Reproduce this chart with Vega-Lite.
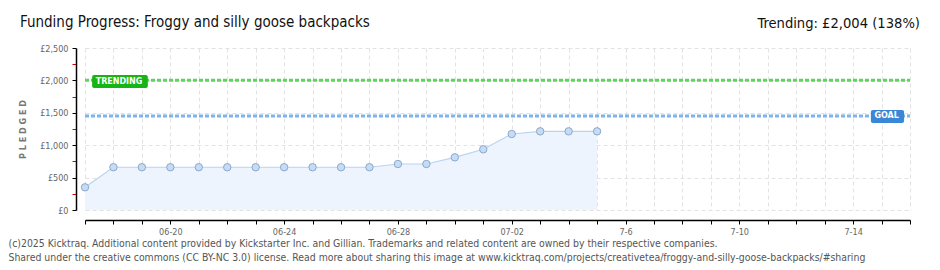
{
  "$schema": "https://vega.github.io/schema/vega-lite/v6.json",
  "autosize": {"type": "none"},
  "width": 825,
  "height": 162,
  "padding": {"left": 85, "top": 48, "right": 30, "bottom": 60},
  "background": "white",
  "config": {"view": {"stroke": null}, "font": "DejaVu Sans Condensed"},
  "title": {
    "text": "Funding Progress: Froggy and silly goose backpacks",
    "anchor": "start",
    "frame": "group",
    "font": "DejaVu Sans Condensed",
    "fontSize": 15,
    "fontWeight": "normal",
    "color": "#111",
    "dx": -65,
    "offset": 0,
    "dy": 14
  },
  "data": {
    "values": [
      {"date": "2025-06-17", "pledged": 350},
      {"date": "2025-06-18", "pledged": 660},
      {"date": "2025-06-19", "pledged": 660},
      {"date": "2025-06-20", "pledged": 660},
      {"date": "2025-06-21", "pledged": 660},
      {"date": "2025-06-22", "pledged": 660},
      {"date": "2025-06-23", "pledged": 660},
      {"date": "2025-06-24", "pledged": 660},
      {"date": "2025-06-25", "pledged": 660},
      {"date": "2025-06-26", "pledged": 660},
      {"date": "2025-06-27", "pledged": 660},
      {"date": "2025-06-28", "pledged": 710},
      {"date": "2025-06-29", "pledged": 710},
      {"date": "2025-06-30", "pledged": 813},
      {"date": "2025-07-01", "pledged": 937},
      {"date": "2025-07-02", "pledged": 1173},
      {"date": "2025-07-03", "pledged": 1214},
      {"date": "2025-07-04", "pledged": 1214},
      {"date": "2025-07-05", "pledged": 1214}
    ]
  },
  "encoding": {
    "x": {
      "field": "date",
      "type": "temporal",
      "scale": {
        "type": "utc",
        "domain": [
          {"year": 2025, "month": 6, "date": 17, "utc": true},
          {"year": 2025, "month": 7, "date": 16, "utc": true}
        ]
      },
      "axis": {
        "tickCount": {"interval": "day", "step": 1},
        "labelExpr": "(round((datum.value - utc(2025,5,17))/864e5) - 3) % 4 == 0 ? (datum.value < utc(2025,6,3) ? utcFormat(datum.value, '%m-%d') : (utcmonth(datum.value)+1) + '-' + utcdate(datum.value)) : ''",
        "labelOverlap": false,
        "labelFlush": false,
        "labelColor": "#666",
        "labelFontSize": 9,
        "labelPadding": 3,
        "offset": 10,
        "domainColor": "#000",
        "domainWidth": 1.5,
        "tickColor": "#000",
        "tickSize": 4,
        "tickWidth": 1,
        "grid": true,
        "gridColor": "#e2e2e2",
        "gridDash": [4, 3],
        "title": [
          "(c)2025 Kicktraq. Additional content provided by Kickstarter Inc. and Gillian. Trademarks and related content are owned by their respective companies.",
          "Shared under the creative commons (CC BY-NC 3.0) license. Read more about sharing this image at www.kicktraq.com/projects/creativetea/froggy-and-silly-goose-backpacks/#sharing"
        ],
        "titleX": -77,
        "titleY": 26,
        "titleAlign": "left",
        "titleAnchor": "start",
        "titleBaseline": "alphabetic",
        "titleFontSize": 10.4,
        "titleFontWeight": "normal",
        "titleColor": "#555",
        "titleLineHeight": 14
      }
    },
    "y": {
      "field": "pledged",
      "type": "quantitative",
      "scale": {"domain": [0, 2500], "nice": false},
      "axis": {
        "values": [0, 250, 500, 750, 1000, 1250, 1500, 1750, 2000, 2250, 2500],
        "labelExpr": "datum.value % 500 == 0 ? '£' + format(datum.value, ',') : ''",
        "labelColor": "#666",
        "labelFontSize": 9,
        "labelPadding": 4,
        "offset": 9,
        "domainColor": "#000",
        "domainWidth": 1.5,
        "tickColor": {"condition": {"test": "datum.value % 500 != 0", "value": "#e00000"}, "value": "#000"},
        "tickSize": 4,
        "grid": true,
        "gridColor": "#e2e2e2",
        "gridDash": [4, 3],
        "gridOpacity": {"condition": {"test": "datum.value % 500 != 0", "value": 0}, "value": 1},
        "title": "P L E D G E D",
        "titleColor": "#777",
        "titleFontSize": 9,
        "titleFontWeight": "bold",
        "titleX": -54,
        "titleY": 81,
        "titleAngle": -90,
        "titleBaseline": "middle",
        "titleAlign": "center"
      }
    }
  },
  "layer": [
    {"mark": {"type": "area", "color": "#edf4fd", "opacity": 1}},
    {"mark": {"type": "line", "color": "#b8d4f2", "strokeWidth": 1.2}},
    {
      "transform": [{"filter": "datum.pledged == 350"}],
      "mark": {"type": "rule", "color": "#5fd35f", "strokeWidth": 3, "strokeDash": [4, 2]},
      "encoding": {
        "y": {"datum": 2004},
        "x": {"datum": {"year": 2025, "month": 6, "date": 17, "utc": true}},
        "x2": {"datum": {"year": 2025, "month": 7, "date": 16, "utc": true}}
      }
    },
    {
      "transform": [{"filter": "datum.pledged == 350"}],
      "mark": {"type": "rule", "color": "#7fb3ec", "strokeWidth": 3, "strokeDash": [4, 2]},
      "encoding": {
        "y": {"datum": 1450},
        "x": {"datum": {"year": 2025, "month": 6, "date": 17, "utc": true}},
        "x2": {"datum": {"year": 2025, "month": 7, "date": 16, "utc": true}}
      }
    },
    {
      "mark": {"type": "point", "filled": true, "fill": "#c4dcf6", "stroke": "#8ea8c8", "strokeWidth": 1, "size": 55, "opacity": 1}
    },
    {
      "transform": [{"filter": "datum.pledged == 350"}],
      "mark": {"type": "rect", "color": "#16b516", "cornerRadius": 2},
      "encoding": {
        "x": {"datum": {"year": 2025, "month": 6, "date": 17, "hours": 6, "utc": true}},
        "x2": {"datum": {"year": 2025, "month": 6, "date": 19, "hours": 5, "utc": true}},
        "y": {"datum": 1883},
        "y2": {"datum": 2083}
      }
    },
    {
      "transform": [{"filter": "datum.pledged == 350"}],
      "mark": {"type": "text", "text": "TRENDING", "color": "white", "fontSize": 8, "fontWeight": "bold", "align": "left", "baseline": "middle", "font": "DejaVu Sans"},
      "encoding": {
        "x": {"datum": {"year": 2025, "month": 6, "date": 17, "hours": 9, "utc": true}},
        "y": {"datum": 1983}
      }
    },
    {
      "transform": [{"filter": "datum.pledged == 350"}],
      "mark": {"type": "rect", "color": "#3a87d8", "cornerRadius": 2},
      "encoding": {
        "x": {"datum": {"year": 2025, "month": 7, "date": 14, "hours": 15, "utc": true}},
        "x2": {"datum": {"year": 2025, "month": 7, "date": 15, "hours": 19, "utc": true}},
        "y": {"datum": 1343},
        "y2": {"datum": 1543}
      }
    },
    {
      "transform": [{"filter": "datum.pledged == 350"}],
      "mark": {"type": "text", "text": "GOAL", "color": "white", "fontSize": 8, "fontWeight": "bold", "align": "left", "baseline": "middle", "font": "DejaVu Sans"},
      "encoding": {
        "x": {"datum": {"year": 2025, "month": 7, "date": 14, "hours": 18, "utc": true}},
        "y": {"datum": 1443}
      }
    },
    {
      "transform": [{"filter": "datum.pledged == 350"}],
      "mark": {"type": "text", "text": "Trending: £2,004 (138%)", "color": "#111", "fontSize": 14.6, "font": "DejaVu Sans Condensed", "align": "right", "baseline": "alphabetic", "dx": 10, "dy": -20},
      "encoding": {
        "x": {"datum": {"year": 2025, "month": 7, "date": 16, "utc": true}},
        "y": {"datum": 2500}
      }
    }
  ]
}
